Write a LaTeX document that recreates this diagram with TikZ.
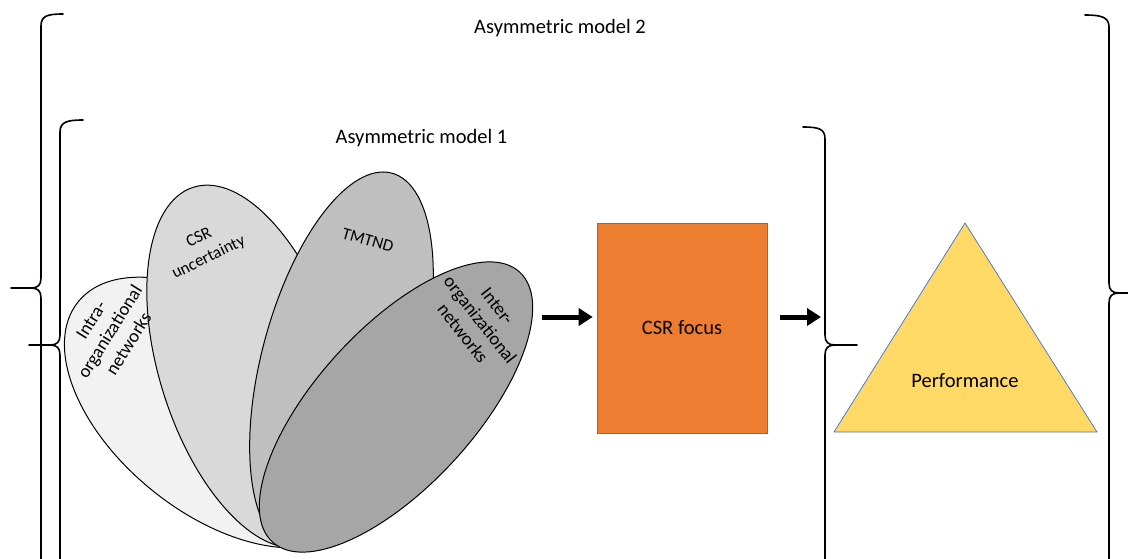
\documentclass[tikz,border=0pt]{standalone}
\usepackage{fontspec}
\setmainfont{Carlito}
\usetikzlibrary{shapes.geometric,arrows.meta}
\definecolor{gA}{HTML}{F2F2F2}
\definecolor{gB}{HTML}{D9D9D9}
\definecolor{gC}{HTML}{BFBFBF}
\definecolor{gD}{HTML}{A6A6A6}
\definecolor{orangefill}{HTML}{ED7D31}
\definecolor{orangeline}{HTML}{C55A11}
\definecolor{yellowfill}{HTML}{FFD966}
\definecolor{blueline}{HTML}{4472C4}
\tikzset{
  bracepath/.style={line width=1.6pt, line join=round, line cap=round},
  petal/.style={ellipse, draw=black, line width=1pt, inner sep=0pt, outer sep=0pt},
  lbl/.style={font=\fontsize{17}{22}\selectfont, align=center, inner sep=0pt},
  lblbig/.style={font=\fontsize{18.5}{22}\selectfont, align=center, inner sep=0pt},
  big/.style={font=\fontsize{20.5}{24}\selectfont, inner sep=0pt},
  flow/.style={line width=5pt, -{Triangle[length=14pt,width=17pt]}}
}
\begin{document}
\begin{tikzpicture}[x=1pt,y=-1pt]
\clip (0,0) rectangle (1128,558);
\fill[white] (0,0) rectangle (1128,558);

% titles
\node[big] (m2) at (560,28) {Asymmetric model 2};
\node[big] (m1) at (421.5,138) {Asymmetric model 1};

% braces
\draw[bracepath] (63,14) .. controls (47,14) and (41,16) .. (41,26) -- (41,278) .. controls (41,285) and (38,288) .. (31,288) -- (11,288);
\draw[bracepath] (31,288) .. controls (38,288) and (41,291) .. (41,298) -- (41,570);
\draw[bracepath] (83,120) .. controls (67,120) and (60,122) .. (60,132) -- (60,335) .. controls (60,342) and (57,345) .. (50,345) -- (29,345);
\draw[bracepath] (50,345) .. controls (57,345) and (60,348) .. (60,355) -- (60,570);
\draw[bracepath] (803,127) .. controls (819,127) and (825,129) .. (825,139) -- (825,335) .. controls (825,342) and (828,345) .. (835,345) -- (857,345);
\draw[bracepath] (835,345) .. controls (828,345) and (825,348) .. (825,355) -- (825,570);
\draw[bracepath] (1085,15) .. controls (1101,15) and (1109,17) .. (1109,27) -- (1109,283) .. controls (1109,290) and (1112,293) .. (1119,293) -- (1135,293);
\draw[bracepath] (1119,293) .. controls (1112,293) and (1109,296) .. (1109,303) -- (1109,570);

% petals
\node[petal, fill=gA, minimum width=200pt, minimum height=352pt, rotate=51] (intra) at (215,412.5) {};
\node[petal, fill=gB, minimum width=181pt, minimum height=376pt, rotate=17.5] (csru) at (250,366.5) {};
\node[petal, fill=gC, minimum width=159pt, minimum height=389pt, rotate=-15] (tmtnd) at (341.5,361) {};
\node[petal, fill=gD, minimum width=158pt, minimum height=366pt, rotate=-42.5] (inter) at (396,407) {};

\node[lblbig, rotate=58] (tIntra) at (110,332) {Intra-\\organizational\\networks};
\node[lbl, rotate=26] (tCSR) at (204,248) {CSR\\uncertainty};
\node[lbl, rotate=-16] (tTMT) at (368,240) {TMTND};
\node[lblbig, rotate=-52] (tInter) at (480,320) {Inter-\\organizational\\networks};

% CSR focus
\node[big, draw=orangeline, line width=0.6pt, fill=orangefill, minimum width=170pt, minimum height=210pt] (csr) at (682,328) {CSR focus};

% performance triangle
\coordinate (tp) at (965,223);
\coordinate (tl) at (834,432);
\coordinate (tr) at (1097,432);
\filldraw[fill=yellowfill, draw=blueline, line width=0.7pt, line join=round] (tp) -- (tl) -- (tr) -- cycle;
\node[big] (perf) at (965,381) {Performance};

% arrows
\coordinate (a1) at (542,317);
\draw[flow, shorten >=4pt] (a1) -- (a1 -| csr.west);
\coordinate (a2) at (821,317);
\draw[flow, shorten <=13pt] (a2 -| csr.east) -- (a2);
\end{tikzpicture}
\end{document}
